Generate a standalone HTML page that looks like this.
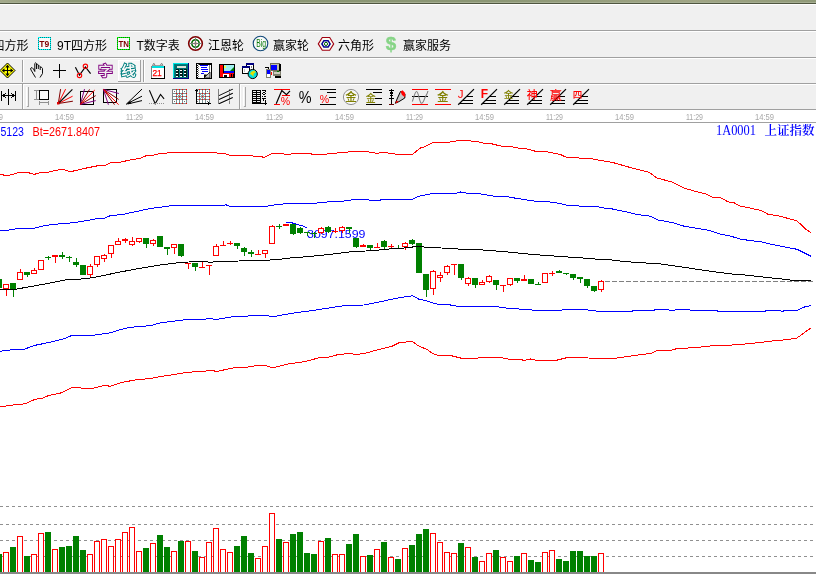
<!DOCTYPE html>
<html><head><meta charset="utf-8"><title>chart</title>
<style>html,body{margin:0;padding:0;background:#fff;overflow:hidden}body{width:816px;height:577px;position:relative}</style></head>
<body>
<svg width="816" height="577" viewBox="0 0 816 577" style="position:absolute;left:0;top:0;display:block">
<g shape-rendering="crispEdges">
<rect x="0" y="0" width="816" height="577" fill="#ffffff" />
<defs><linearGradient id="tg" x1="0" x2="1" y1="0" y2="0"><stop offset="0" stop-color="#a3a98b"/><stop offset="0.08" stop-color="#8a9573"/><stop offset="0.6" stop-color="#8b9674"/><stop offset="0.85" stop-color="#a0a585"/><stop offset="1" stop-color="#8f9977"/></linearGradient></defs>
<rect x="0" y="0" width="816" height="2" fill="url(#tg)" />
<rect x="0" y="2" width="816" height="1" fill="#a6ae92" />
<rect x="0" y="3" width="816" height="1" fill="#4f5640" />
<rect x="0" y="4" width="816" height="1" fill="#ffffff" />
<rect x="0" y="5" width="816" height="104" fill="#f0f0f0" />
<rect x="0" y="30" width="816" height="1" fill="#a0a0a0" />
<rect x="0" y="31" width="816" height="1" fill="#ffffff" />
<rect x="0" y="57" width="816" height="1" fill="#a0a0a0" />
<rect x="0" y="58" width="816" height="1" fill="#ffffff" />
<rect x="0" y="83" width="816" height="1" fill="#a0a0a0" />
<rect x="0" y="84" width="816" height="1" fill="#ffffff" />
<rect x="0" y="109" width="816" height="1" fill="#a0a0a0" />
<rect x="0" y="110" width="816" height="12" fill="#ffffff" />
<rect x="0" y="122" width="816" height="1" fill="#a0a0a0" />
<rect x="22" y="60" width="1" height="22" fill="#a0a0a0" />
<rect x="23" y="60" width="1" height="22" fill="#ffffff" />
<rect x="143" y="60" width="1" height="22" fill="#a0a0a0" />
<rect x="144" y="60" width="1" height="22" fill="#ffffff" />
<rect x="22" y="84" width="1" height="25" fill="#a0a0a0" />
<rect x="23" y="84" width="1" height="25" fill="#ffffff" />
<rect x="239" y="84" width="1" height="25" fill="#a0a0a0" />
<rect x="240" y="84" width="1" height="25" fill="#ffffff" />
<rect x="26" y="87" width="1" height="19" fill="#ffffff" />
<rect x="28" y="87" width="1" height="20" fill="#a8a8a8" />
<rect x="27" y="106" width="1" height="1" fill="#a8a8a8" />
<rect x="243" y="87" width="1" height="19" fill="#ffffff" />
<rect x="245" y="87" width="1" height="20" fill="#a8a8a8" />
<rect x="244" y="106" width="1" height="1" fill="#a8a8a8" />
<rect x="118" y="60" width="23" height="22" fill="#f8f8f8" />
<rect x="118" y="60" width="23" height="1" fill="#ffffff" />
<rect x="118" y="60" width="1" height="22" fill="#ffffff" />
<rect x="118" y="81" width="23" height="1" fill="#a0a0a0" />
<rect x="140" y="60" width="1" height="22" fill="#a0a0a0" />
</g>
<text x="-7.5" y="50" font-size="12" fill="#000" font-family="Liberation Sans, Noto Sans CJK SC, sans-serif" >四方形</text>
<text x="57" y="50" font-size="12" fill="#000" font-family="Liberation Sans, Noto Sans CJK SC, sans-serif" >9T四方形</text>
<text x="136.5" y="50" font-size="12" fill="#000" font-family="Liberation Sans, Noto Sans CJK SC, sans-serif" >T数字表</text>
<text x="208" y="50" font-size="12" fill="#000" font-family="Liberation Sans, Noto Sans CJK SC, sans-serif" >江恩轮</text>
<text x="273" y="50" font-size="12" fill="#000" font-family="Liberation Sans, Noto Sans CJK SC, sans-serif" >赢家轮</text>
<text x="338" y="50" font-size="12" fill="#000" font-family="Liberation Sans, Noto Sans CJK SC, sans-serif" >六角形</text>
<text x="403" y="50" font-size="12" fill="#000" font-family="Liberation Sans, Noto Sans CJK SC, sans-serif" >赢家服务</text>
<g shape-rendering="crispEdges">
<rect x="38" y="37" width="13" height="13" fill="#fafafa" />
<rect x="38.5" y="37.5" width="12" height="12" fill="none" stroke="#00ffff" stroke-width="1"/>
<rect x="38.5" y="37.5" width="12" height="12" fill="none" stroke="#008080" stroke-width="1" stroke-dasharray="1 1" stroke-dashoffset="1"/>
<rect x="117" y="37" width="13" height="13" fill="#fafafa" />
<rect x="117.5" y="37.5" width="12" height="12" fill="none" stroke="#00ff00" stroke-width="1"/>
<rect x="117.5" y="37.5" width="12" height="12" fill="none" stroke="#008000" stroke-width="1" stroke-dasharray="1 1" stroke-dashoffset="1"/>
</g>
<text x="39.3" y="47" font-size="8.5" font-weight="bold" fill="#800000" font-family="Liberation Sans, sans-serif" textLength="10" lengthAdjust="spacingAndGlyphs">T9</text>
<text x="118.5" y="47" font-size="8.5" font-weight="bold" fill="#800000" font-family="Liberation Sans, sans-serif" textLength="10.5" lengthAdjust="spacingAndGlyphs">TN</text>
<circle cx="195.5" cy="43.5" r="6.8" fill="#ffffff" stroke="#800000" stroke-width="1.6"/>
<circle cx="195.5" cy="43.5" r="3.7" fill="#ffffff" stroke="#006a00" stroke-width="1.6"/>
<circle cx="195.5" cy="43.5" r="1.3" fill="#e06020"/>
<g shape-rendering="crispEdges"><rect x="189" y="43" width="13" height="1" fill="#808080"/><rect x="195" y="37" width="1" height="13" fill="#808080"/></g>
<circle cx="260.5" cy="43.5" r="7.3" fill="#fafafa" stroke="#104878" stroke-width="1.1"/>
<text x="256.3" y="47" font-size="11" fill="#0a7a0a" font-family="Liberation Sans, sans-serif" textLength="9.8" lengthAdjust="spacingAndGlyphs">Big</text>
<polygon points="318.3,43.9 322.3,37.5 329.7,37.5 333.7,43.9 329.7,50.3 322.3,50.3" fill="#fcfcf4" stroke="#a00010" stroke-width="1.1"/>
<polygon points="321.9,43.9 323.9,40.7 328.1,40.7 330.1,43.9 328.1,47.1 323.9,47.1" fill="#ffffff" stroke="#000090" stroke-width="1.5"/>
<circle cx="326" cy="43.9" r="1.6" fill="#ffffff" stroke="#006400" stroke-width="1"/>
<text x="385.8" y="49.6" font-size="19" font-weight="bold" fill="#86d486" stroke="#86d486" stroke-width="0.4" font-family="Liberation Sans, sans-serif" textLength="10.5" lengthAdjust="spacingAndGlyphs">$</text>
<polygon points="0,70.5 7.5,63 15,70.5 7.5,78" fill="#ffff00" stroke="#000" stroke-width="1"/>
<g shape-rendering="crispEdges">
<rect x="3" y="70" width="10" height="1" fill="#000" />
<rect x="7" y="66" width="1" height="10" fill="#000" />
</g>
<path d="M7.5,64.8 L5.3,67.5 L9.7,67.5 Z M7.5,76.2 L5.3,73.5 L9.7,73.5 Z M1.8,70.5 L4.5,68.3 L4.5,72.7 Z M13.2,70.5 L10.5,68.3 L10.5,72.7 Z" fill="#000"/>
<path d="M35.5,77.5 L31,70 L30.5,68.5 L32,67.5 L33.5,69 L34.8,71.5 L34.8,63.5 L35.6,62.8 L36.5,63.5 L36.5,69 M36.5,64.5 L37.5,64.2 L38.3,65 L38.3,69 M38.3,66 L39.4,65.8 L40.2,66.6 L40.2,70 M40.2,67.3 L41.4,67.2 L42.5,68.5 L42.5,73.5 L40,77.5" fill="none" stroke="#000" stroke-width="0.95" stroke-linejoin="round"/>
<g shape-rendering="crispEdges">
<rect x="53" y="70" width="13" height="1" fill="#000" />
<rect x="59" y="64" width="1" height="14" fill="#000" />
</g>
<polyline points="75.4,67.2 79.5,75.2 85.4,66.9 90.6,73.7" stroke="#000" stroke-width="1.2" fill="none"/>
<circle cx="79.5" cy="75.4" r="2.2" fill="none" stroke="#ff0000" stroke-width="1.1"/>
<circle cx="85.4" cy="66.3" r="2.2" fill="none" stroke="#ff0000" stroke-width="1.1"/>
<text x="98.6" y="74.6" font-size="13" font-weight="300" fill="#800080" stroke="#800080" stroke-width="2.6" stroke-linejoin="miter" font-family="Liberation Sans, Noto Sans CJK SC, sans-serif" textLength="14" lengthAdjust="spacingAndGlyphs">字</text>
<text x="98.6" y="74.6" font-size="13" font-weight="300" fill="#f0f0f0" stroke="#f0f0f0" stroke-width="0.7" font-family="Liberation Sans, Noto Sans CJK SC, sans-serif" textLength="14" lengthAdjust="spacingAndGlyphs">字</text>
<text x="121.4" y="74.6" font-size="13" font-weight="300" fill="#008080" stroke="#008080" stroke-width="2.6" stroke-linejoin="miter" font-family="Liberation Sans, Noto Sans CJK SC, sans-serif" textLength="14" lengthAdjust="spacingAndGlyphs">线</text>
<text x="121.4" y="74.6" font-size="13" font-weight="300" fill="#f8f8f8" stroke="#f8f8f8" stroke-width="0.7" font-family="Liberation Sans, Noto Sans CJK SC, sans-serif" textLength="14" lengthAdjust="spacingAndGlyphs">线</text>
<g shape-rendering="crispEdges">
<rect x="151" y="66" width="14" height="13" fill="#000" />
<rect x="151" y="66" width="13" height="12" fill="#808080" />
<rect x="152" y="66" width="12" height="12" fill="#ffffff" />
<rect x="152" y="66" width="12" height="2" fill="#00e0e0" />
<rect x="152" y="65" width="11" height="1" fill="#a0a0a0" />
</g>
<polyline points="152.5,65.5 153.8,63.2 155.2,65.5" stroke="#808080" stroke-width="1" fill="none"/>
<polyline points="160.2,65.5 161.6,63.2 163,65.5" stroke="#808080" stroke-width="1" fill="none"/>
<text x="152.4" y="76" font-size="9.8" fill="#ff0000" stroke="#ff0000" stroke-width="0.25" font-family="Liberation Sans, sans-serif" textLength="9.4" lengthAdjust="spacingAndGlyphs">21</text>
<g shape-rendering="crispEdges">
<rect x="173" y="63" width="16" height="16" fill="#000080" />
<rect x="173" y="63" width="15" height="15" fill="#00e8e8" />
<rect x="174" y="64" width="14" height="14" fill="#008080" />
<rect x="175" y="65" width="13" height="13" fill="#007070" />
<rect x="177" y="66" width="9" height="2" fill="#e0e0d8" />
<rect x="176" y="69" width="11" height="8" fill="#002020" />
<rect x="176" y="70" width="2" height="1" fill="#ffffff" />
<rect x="180" y="70" width="2" height="1" fill="#ffffff" />
<rect x="184" y="70" width="2" height="1" fill="#ffffff" />
<rect x="176" y="73" width="2" height="1" fill="#ffffff" />
<rect x="180" y="73" width="2" height="1" fill="#ffffff" />
<rect x="184" y="73" width="2" height="1" fill="#ffffff" />
<rect x="176" y="76" width="2" height="1" fill="#ffffff" />
<rect x="180" y="76" width="2" height="1" fill="#ffffff" />
<rect x="184" y="76" width="2" height="1" fill="#ffffff" />
<rect x="179" y="69" width="1" height="9" fill="#008080" />
<rect x="183" y="69" width="1" height="9" fill="#008080" />
</g>
<g shape-rendering="crispEdges">
<rect x="196" y="63" width="16" height="16" fill="#000" />
<rect x="197" y="65" width="14" height="13" fill="#ffffff" />
<rect x="197" y="64" width="2" height="14" fill="#ffffff" />
<rect x="197" y="65" width="1" height="1" fill="#000" />
<rect x="198" y="64" width="1" height="1" fill="#808080" />
<rect x="197" y="67" width="1" height="1" fill="#000" />
<rect x="198" y="66" width="1" height="1" fill="#808080" />
<rect x="197" y="69" width="1" height="1" fill="#000" />
<rect x="198" y="68" width="1" height="1" fill="#808080" />
<rect x="197" y="71" width="1" height="1" fill="#000" />
<rect x="198" y="70" width="1" height="1" fill="#808080" />
<rect x="197" y="73" width="1" height="1" fill="#000" />
<rect x="198" y="72" width="1" height="1" fill="#808080" />
<rect x="197" y="75" width="1" height="1" fill="#000" />
<rect x="198" y="74" width="1" height="1" fill="#808080" />
<rect x="197" y="77" width="1" height="1" fill="#000" />
<rect x="198" y="76" width="1" height="1" fill="#808080" />
<rect x="200" y="65" width="8" height="1" fill="#0000ff" />
<rect x="201" y="67" width="6" height="1" fill="#0000ff" />
<rect x="201" y="69" width="7" height="1" fill="#0000ff" />
<rect x="202" y="71" width="6" height="1" fill="#0000ff" />
<rect x="201" y="73" width="3" height="1" fill="#0000ff" />
<rect x="209" y="65" width="1" height="9" fill="#808080" />
</g>
<polygon points="204,78 210,72 210,78" fill="#c0c0c0" stroke="#000" stroke-width="0.8"/>
<polygon points="204,78 204,74.5 207,74.5" fill="#000"/>
<g shape-rendering="crispEdges">
<rect x="219" y="64" width="16" height="14" fill="#000" />
<rect x="220" y="65" width="3" height="12" fill="#ff0000" />
<rect x="223" y="73" width="11" height="4" fill="#ff0000" />
<rect x="224" y="65" width="10" height="6" fill="#a0f0f0" />
<rect x="224" y="71" width="10" height="2" fill="#0000ff" />
<rect x="223" y="74" width="6" height="3" fill="#ffffff" />
<rect x="224" y="75" width="3" height="2" fill="#000" />
<rect x="231" y="74" width="1" height="4" fill="#000" />
<rect x="233" y="74" width="2" height="4" fill="#000" />
<rect x="225" y="67" width="1" height="1" fill="#ffff00" />
<rect x="224" y="66" width="2" height="2" fill="#ffff40" />
</g>
<polygon points="230,71 234,67 234,71" fill="#008000"/>
<g shape-rendering="crispEdges">
<rect x="246" y="63" width="8" height="8" fill="#000" />
<rect x="247" y="65" width="6" height="5" fill="#ffffff" />
<rect x="246" y="63" width="8" height="2" fill="#000080" />
<rect x="242" y="66" width="8" height="8" fill="#000" />
<rect x="243" y="68" width="6" height="5" fill="#ffffff" />
<rect x="242" y="66" width="8" height="2" fill="#000080" />
<rect x="251" y="66" width="1" height="2" fill="#808080" />
<rect x="244" y="69" width="1" height="3" fill="#c0c0c0" />
</g>
<circle cx="252.7" cy="74" r="4.6" fill="#00e0e0" stroke="#000" stroke-width="1"/>
<path d="M251,72 L254,70.5 L256,72 L253.5,74 L253.5,77 L252,75 L250,74 Z" fill="#e0e000"/>
<g shape-rendering="crispEdges">
<rect x="270" y="63" width="10" height="8" fill="#707058" />
<rect x="271" y="64" width="8" height="6" fill="#c0c0a8" />
<rect x="271" y="65" width="6" height="5" fill="#0000ff" />
<rect x="279" y="64" width="2" height="8" fill="#000" />
<rect x="273" y="71" width="8" height="5" fill="#808070" />
<rect x="274" y="72" width="6" height="2" fill="#d0d0c0" />
<rect x="275" y="76" width="6" height="2" fill="#000" />
<rect x="277" y="71" width="2" height="1" fill="#008000" />
<rect x="266" y="69" width="5" height="9" fill="#808070" />
<rect x="267" y="70" width="3" height="4" fill="#0000ff" />
<rect x="267" y="74" width="3" height="3" fill="#ffffff" />
<rect x="265" y="67" width="4" height="1" fill="#000" />
<rect x="268" y="68" width="1" height="1" fill="#000" />
<rect x="271" y="72" width="1" height="3" fill="#ff0000" />
</g>
<g shape-rendering="crispEdges">
<rect x="1" y="91" width="1" height="10" fill="#000" />
<rect x="8" y="89" width="1" height="16" fill="#000" />
<rect x="15" y="91" width="1" height="10" fill="#000" />
<rect x="1" y="95" width="15" height="1" fill="#000" />
<rect x="3" y="94" width="2" height="3" fill="#000" />
<rect x="5" y="93" width="1" height="1" fill="#000" />
<rect x="5" y="97" width="1" height="1" fill="#000" />
<rect x="12" y="94" width="2" height="3" fill="#000" />
<rect x="11" y="93" width="1" height="1" fill="#000" />
<rect x="11" y="97" width="1" height="1" fill="#000" />
<rect x="39" y="90" width="10" height="10" fill="#000" />
<rect x="40" y="91" width="8" height="8" fill="#f8f8f8" />
<rect x="34" y="90" width="5" height="1" fill="#909090" />
<rect x="34" y="99" width="5" height="1" fill="#909090" />
<rect x="36" y="90" width="1" height="10" fill="#909090" />
<rect x="39" y="101" width="1" height="4" fill="#909090" />
<rect x="48" y="101" width="1" height="4" fill="#909090" />
<rect x="39" y="102" width="10" height="1" fill="#909090" />
</g>
<line x1="58.3" y1="103.5" x2="60.6" y2="89.1" stroke="#800000" stroke-width="1" />
<line x1="58.3" y1="103.5" x2="65.6" y2="89.1" stroke="#ff0000" stroke-width="1" />
<line x1="58.3" y1="103.5" x2="72.6" y2="96.2" stroke="#ff0000" stroke-width="1" />
<line x1="58.3" y1="103.5" x2="72.9" y2="101.2" stroke="#800000" stroke-width="1" />
<line x1="58.3" y1="103.5" x2="72.4" y2="89.4" stroke="#000" stroke-width="1.1" />
<rect x="57" y="102" width="2.5" height="2.5" fill="#e00000"/>
<rect x="80.5" y="91.5" width="13" height="13" fill="#f8f8f8" stroke="#000" stroke-width="1.2" shape-rendering="crispEdges"/>
<line x1="80.4" y1="104.4" x2="84.5" y2="89.1" stroke="#800080" stroke-width="1" />
<line x1="80.4" y1="104.4" x2="89.5" y2="89.4" stroke="#800000" stroke-width="1" />
<line x1="80.4" y1="104.4" x2="95.7" y2="95.6" stroke="#800000" stroke-width="1" />
<line x1="80.4" y1="104.4" x2="95.7" y2="100.6" stroke="#800080" stroke-width="1" />
<line x1="80.4" y1="104.4" x2="94.8" y2="90" stroke="#ff0000" stroke-width="1" />
<rect x="103.5" y="89.5" width="13" height="13" fill="#f8f8f8" stroke="#000" stroke-width="1.2" shape-rendering="crispEdges"/>
<line x1="103.4" y1="89.4" x2="118.9" y2="93.5" stroke="#800080" stroke-width="1" />
<line x1="103.4" y1="89.4" x2="118.6" y2="99.4" stroke="#800000" stroke-width="1" />
<line x1="103.4" y1="89.4" x2="114.5" y2="104.7" stroke="#800000" stroke-width="1" />
<line x1="103.4" y1="89.4" x2="108.4" y2="104.7" stroke="#800080" stroke-width="1" />
<line x1="103.4" y1="89.4" x2="118.6" y2="104.7" stroke="#ff0000" stroke-width="1" />
<line x1="126.1" y1="104.4" x2="142" y2="89.1" stroke="#000" stroke-width="1" />
<line x1="128" y1="103.2" x2="142" y2="96.2" stroke="#000" stroke-width="1" />
<line x1="128" y1="103.9" x2="142" y2="100.6" stroke="#000" stroke-width="1" />
<polygon points="126,104.6 130,101 131.5,103.6" fill="#000"/>
<polyline points="149.4,90.3 155.2,103.8 160.5,94.4 164.1,98.8" stroke="#000" stroke-width="1.05" fill="none"/>
<line x1="149" y1="103.5" x2="165" y2="103.5" stroke="#909090" stroke-width="1" stroke-dasharray="1 1" shape-rendering="crispEdges"/>
<g shape-rendering="crispEdges">
<rect x="172" y="89" width="15" height="15" fill="#789090" />
<rect x="173" y="90" width="3" height="3" fill="#ffffff" />
<rect x="173" y="94" width="3" height="2" fill="#ffffff" />
<rect x="173" y="97" width="3" height="2" fill="#ffffff" />
<rect x="173" y="100" width="3" height="3" fill="#ffffff" />
<rect x="177" y="90" width="2" height="3" fill="#ffffff" />
<rect x="177" y="94" width="2" height="2" fill="#ffffff" />
<rect x="177" y="97" width="2" height="2" fill="#ffffff" />
<rect x="177" y="100" width="2" height="3" fill="#ffffff" />
<rect x="180" y="90" width="2" height="3" fill="#ffffff" />
<rect x="180" y="94" width="2" height="2" fill="#ffffff" />
<rect x="180" y="97" width="2" height="2" fill="#ffffff" />
<rect x="180" y="100" width="2" height="3" fill="#ffffff" />
<rect x="183" y="90" width="3" height="3" fill="#ffffff" />
<rect x="183" y="94" width="3" height="2" fill="#ffffff" />
<rect x="183" y="97" width="3" height="2" fill="#ffffff" />
<rect x="183" y="100" width="3" height="3" fill="#ffffff" />
<rect x="174" y="91" width="1" height="1" fill="#707070" />
<rect x="184" y="91" width="1" height="1" fill="#707070" />
<rect x="174" y="101" width="1" height="1" fill="#707070" />
<rect x="184" y="101" width="1" height="1" fill="#707070" />
<rect x="177" y="94" width="5" height="5" fill="#90a8a8" />
<rect x="178" y="94" width="1" height="1" fill="#ffffff" />
<rect x="180" y="94" width="1" height="1" fill="#ffffff" />
<rect x="177" y="95" width="1" height="1" fill="#ffffff" />
<rect x="181" y="95" width="1" height="1" fill="#ffffff" />
<rect x="177" y="97" width="1" height="1" fill="#ffffff" />
<rect x="181" y="97" width="1" height="1" fill="#ffffff" />
<rect x="178" y="98" width="1" height="1" fill="#ffffff" />
<rect x="180" y="98" width="1" height="1" fill="#ffffff" />
<rect x="172" y="89" width="1" height="15" fill="#808080" />
<rect x="172" y="89" width="15" height="1" fill="#808080" />
<rect x="176" y="89" width="1" height="1" fill="#ff0000" />
<rect x="176" y="93" width="1" height="1" fill="#ff0000" />
<rect x="176" y="96" width="1" height="1" fill="#ff0000" />
<rect x="176" y="99" width="1" height="1" fill="#ff0000" />
<rect x="176" y="103" width="1" height="1" fill="#ff0000" />
<rect x="179" y="89" width="1" height="1" fill="#ff0000" />
<rect x="179" y="93" width="1" height="1" fill="#ff0000" />
<rect x="179" y="96" width="1" height="1" fill="#ff0000" />
<rect x="179" y="99" width="1" height="1" fill="#ff0000" />
<rect x="179" y="103" width="1" height="1" fill="#ff0000" />
<rect x="182" y="89" width="1" height="1" fill="#ff0000" />
<rect x="182" y="93" width="1" height="1" fill="#ff0000" />
<rect x="182" y="96" width="1" height="1" fill="#ff0000" />
<rect x="182" y="99" width="1" height="1" fill="#ff0000" />
<rect x="182" y="103" width="1" height="1" fill="#ff0000" />
<rect x="186" y="89" width="1" height="1" fill="#ff0000" />
<rect x="186" y="93" width="1" height="1" fill="#ff0000" />
<rect x="186" y="96" width="1" height="1" fill="#ff0000" />
<rect x="186" y="99" width="1" height="1" fill="#ff0000" />
<rect x="186" y="103" width="1" height="1" fill="#ff0000" />
<rect x="195" y="89" width="15" height="15" fill="#789090" />
<rect x="196" y="90" width="3" height="3" fill="#ffffff" />
<rect x="196" y="94" width="3" height="2" fill="#ffffff" />
<rect x="196" y="97" width="3" height="2" fill="#ffffff" />
<rect x="196" y="100" width="3" height="3" fill="#ffffff" />
<rect x="200" y="90" width="2" height="3" fill="#ffffff" />
<rect x="200" y="94" width="2" height="2" fill="#ffffff" />
<rect x="200" y="97" width="2" height="2" fill="#ffffff" />
<rect x="200" y="100" width="2" height="3" fill="#ffffff" />
<rect x="203" y="90" width="2" height="3" fill="#ffffff" />
<rect x="203" y="94" width="2" height="2" fill="#ffffff" />
<rect x="203" y="97" width="2" height="2" fill="#ffffff" />
<rect x="203" y="100" width="2" height="3" fill="#ffffff" />
<rect x="206" y="90" width="3" height="3" fill="#ffffff" />
<rect x="206" y="94" width="3" height="2" fill="#ffffff" />
<rect x="206" y="97" width="3" height="2" fill="#ffffff" />
<rect x="206" y="100" width="3" height="3" fill="#ffffff" />
<rect x="197" y="91" width="1" height="1" fill="#707070" />
<rect x="207" y="91" width="1" height="1" fill="#707070" />
<rect x="197" y="101" width="1" height="1" fill="#707070" />
<rect x="207" y="101" width="1" height="1" fill="#707070" />
<rect x="200" y="94" width="5" height="5" fill="#90a8a8" />
<rect x="201" y="94" width="1" height="1" fill="#ffffff" />
<rect x="203" y="94" width="1" height="1" fill="#ffffff" />
<rect x="200" y="95" width="1" height="1" fill="#ffffff" />
<rect x="204" y="95" width="1" height="1" fill="#ffffff" />
<rect x="200" y="97" width="1" height="1" fill="#ffffff" />
<rect x="204" y="97" width="1" height="1" fill="#ffffff" />
<rect x="201" y="98" width="1" height="1" fill="#ffffff" />
<rect x="203" y="98" width="1" height="1" fill="#ffffff" />
<rect x="195" y="89" width="1" height="15" fill="#808080" />
<rect x="195" y="89" width="15" height="1" fill="#808080" />
<rect x="199" y="89" width="1" height="1" fill="#ff0000" />
<rect x="199" y="93" width="1" height="1" fill="#ff0000" />
<rect x="199" y="96" width="1" height="1" fill="#ff0000" />
<rect x="199" y="99" width="1" height="1" fill="#ff0000" />
<rect x="199" y="103" width="1" height="1" fill="#ff0000" />
<rect x="202" y="89" width="1" height="1" fill="#ff0000" />
<rect x="202" y="93" width="1" height="1" fill="#ff0000" />
<rect x="202" y="96" width="1" height="1" fill="#ff0000" />
<rect x="202" y="99" width="1" height="1" fill="#ff0000" />
<rect x="202" y="103" width="1" height="1" fill="#ff0000" />
<rect x="205" y="89" width="1" height="1" fill="#ff0000" />
<rect x="205" y="93" width="1" height="1" fill="#ff0000" />
<rect x="205" y="96" width="1" height="1" fill="#ff0000" />
<rect x="205" y="99" width="1" height="1" fill="#ff0000" />
<rect x="205" y="103" width="1" height="1" fill="#ff0000" />
<rect x="209" y="89" width="1" height="1" fill="#ff0000" />
<rect x="209" y="93" width="1" height="1" fill="#ff0000" />
<rect x="209" y="96" width="1" height="1" fill="#ff0000" />
<rect x="209" y="99" width="1" height="1" fill="#ff0000" />
<rect x="209" y="103" width="1" height="1" fill="#ff0000" />
<rect x="195" y="89" width="1" height="15" fill="#f0f0f0" />
<rect x="196" y="89" width="1" height="15" fill="#000" />
<rect x="196" y="103" width="14" height="1" fill="#000" />
<rect x="195" y="90" width="3" height="1" fill="#000" />
<rect x="208" y="102" width="1" height="3" fill="#000" />
<rect x="209" y="103" width="1" height="1" fill="#000" />
<rect x="210" y="103" width="1" height="1" fill="#000" />
</g>
<g shape-rendering="crispEdges">
<rect x="218" y="89" width="1" height="15" fill="#808080" />
<rect x="229" y="89" width="1" height="15" fill="#808080" />
</g>
<line x1="219" y1="96.6" x2="232.8" y2="90.1" stroke="#ffffff" stroke-width="1" />
<line x1="219" y1="95.6" x2="232.8" y2="89.1" stroke="#000" stroke-width="1.05" />
<line x1="219" y1="100.4" x2="232.8" y2="94.2" stroke="#ffffff" stroke-width="1" />
<line x1="219" y1="99.4" x2="232.8" y2="93.2" stroke="#000" stroke-width="1.05" />
<line x1="219" y1="104.8" x2="232.8" y2="98.4" stroke="#ffffff" stroke-width="1" />
<line x1="219" y1="103.8" x2="232.8" y2="97.4" stroke="#000" stroke-width="1.05" />
<g shape-rendering="crispEdges">
<rect x="252" y="90" width="1" height="14" fill="#000" />
<rect x="256" y="90" width="1" height="14" fill="#000" />
<rect x="260" y="90" width="1" height="14" fill="#000" />
<rect x="252" y="90" width="9" height="1" fill="#000" />
<rect x="252" y="92" width="9" height="1" fill="#000" />
<rect x="252" y="94" width="9" height="1" fill="#000" />
<rect x="252" y="96" width="9" height="1" fill="#000" />
<rect x="252" y="98" width="9" height="1" fill="#000" />
<rect x="252" y="100" width="9" height="1" fill="#000" />
<rect x="252" y="102" width="9" height="1" fill="#000" />
<rect x="252" y="103" width="15" height="1" fill="#000" />
<rect x="265" y="101" width="1" height="4" fill="#000" />
<rect x="262" y="90" width="1" height="1" fill="#000" />
<rect x="263" y="90" width="1" height="1" fill="#000" />
<rect x="264" y="90" width="1" height="1" fill="#000" />
<rect x="265" y="90" width="1" height="1" fill="#000" />
<rect x="265" y="91" width="1" height="1" fill="#000" />
<rect x="263" y="92" width="1" height="1" fill="#000" />
<rect x="264" y="92" width="1" height="1" fill="#000" />
<rect x="262" y="93" width="1" height="1" fill="#000" />
<rect x="265" y="93" width="1" height="1" fill="#000" />
<rect x="263" y="94" width="1" height="1" fill="#000" />
<rect x="264" y="94" width="1" height="1" fill="#000" />
<rect x="262" y="96" width="1" height="1" fill="#000" />
<rect x="264" y="96" width="1" height="1" fill="#000" />
<rect x="265" y="96" width="1" height="1" fill="#000" />
<rect x="262" y="98" width="1" height="1" fill="#000" />
<rect x="263" y="98" width="1" height="1" fill="#000" />
<rect x="264" y="98" width="1" height="1" fill="#000" />
<rect x="265" y="98" width="1" height="1" fill="#000" />
<rect x="263" y="99" width="1" height="1" fill="#000" />
<rect x="263" y="100" width="1" height="1" fill="#000" />
<rect x="265" y="100" width="1" height="1" fill="#000" />
<rect x="274" y="89" width="16" height="1" fill="#ff0000" />
<rect x="282" y="95" width="8" height="1" fill="#ff0000" />
<rect x="274" y="104" width="6" height="1" fill="#ff0000" />
</g>
<polyline points="276.2,103.8 281.8,90.6 286.5,94.7 290,90.9" stroke="#000" stroke-width="1.2" fill="none"/>
<text x="280.8" y="104.8" font-size="10.5" fill="#ff0000" font-family="Liberation Sans, sans-serif" textLength="9.4" lengthAdjust="spacingAndGlyphs">%</text>
<text x="298.7" y="102.6" font-size="16.5" fill="#000" font-family="Liberation Sans, sans-serif" textLength="12.8" lengthAdjust="spacingAndGlyphs">%</text>
<g shape-rendering="crispEdges">
<rect x="320" y="89" width="16" height="1" fill="#000" />
<rect x="327" y="92" width="9" height="1" fill="#000" />
<rect x="329" y="97" width="7" height="1" fill="#000" />
<rect x="320" y="104" width="16" height="1" fill="#000" />
<rect x="366" y="89" width="16" height="1" fill="#000" />
<rect x="373" y="92" width="9" height="1" fill="#000" />
<rect x="375" y="98" width="7" height="1" fill="#000" />
<rect x="366" y="104" width="16" height="1" fill="#000" />
</g>
<text x="319.8" y="103" font-size="10.5" fill="#ff0000" font-family="Liberation Sans, sans-serif" textLength="9.4" lengthAdjust="spacingAndGlyphs">%</text>
<circle cx="351" cy="97" r="7.6" fill="#f8f8f8" stroke="#909090" stroke-width="1"/>
<text x="345.2" y="101.3" font-size="11.5" fill="#808000" font-family="Liberation Sans, Noto Sans CJK SC, sans-serif" font-weight="500">金</text>
<text x="365.8" y="102.4" font-size="10" fill="#808000" font-family="Liberation Sans, Noto Sans CJK SC, sans-serif" font-weight="500">金</text>
<g shape-rendering="crispEdges">
<rect x="391" y="89" width="1" height="16" fill="#000" />
<rect x="389" y="90" width="5" height="1" fill="#000" />
<rect x="390" y="92" width="3" height="1" fill="#000" />
<rect x="390" y="93" width="3" height="1" fill="#000" />
<rect x="390" y="95" width="3" height="1" fill="#000" />
<rect x="389" y="98" width="5" height="1" fill="#000" />
<rect x="389" y="104" width="5" height="1" fill="#600000" />
</g>
<polygon points="395.3,103.3 397.5,98 400.5,91.5 405,94 404.8,98 399,101.6" fill="#c8c8c8" stroke="#000" stroke-width="1"/>
<polygon points="400.6,91.6 402.5,90.2 405.2,93 405,97.3 402,95" fill="#ff0000"/>
<polygon points="395.3,103.5 396.6,100.5 398.6,101.8" fill="#ff0000"/>
<g shape-rendering="crispEdges">
<rect x="412" y="89" width="16" height="1" fill="#ff0000" />
<rect x="412" y="104" width="16" height="1" fill="#ff0000" />
<rect x="412" y="96" width="16" height="1" fill="#000" />
<rect x="435" y="89" width="16" height="1" fill="#ff0000" />
<rect x="435" y="104" width="16" height="1" fill="#ff0000" />
</g>
<path d="M412.3,101.5 C414,97 415,91.5 416.6,91.5 C418.5,91.5 419.5,103.2 421.4,103.2 C423.5,103.2 424.3,99 425,97.5 C426,95.5 427.5,94 427.9,91" fill="none" stroke="#808080" stroke-width="1.1"/>
<text x="437" y="101.3" font-size="11.5" fill="#808000" font-family="Liberation Sans, Noto Sans CJK SC, sans-serif" font-weight="500">金</text>
<g shape-rendering="crispEdges">
<rect x="467" y="96" width="6" height="1" fill="#000" />
<rect x="463" y="100" width="10" height="1" fill="#000" />
<rect x="460" y="103" width="13" height="1" fill="#000" />
</g>
<line x1="458.2" y1="104.7" x2="474" y2="89.1" stroke="#000" stroke-width="1.2" />
<text x="457.7" y="98" font-size="11.5" font-weight="normal" fill="#ff0000" font-family="Liberation Sans, sans-serif">J</text>
<g shape-rendering="crispEdges">
<rect x="490" y="96" width="6" height="1" fill="#000" />
<rect x="486" y="100" width="10" height="1" fill="#000" />
<rect x="483" y="103" width="13" height="1" fill="#000" />
</g>
<line x1="481.2" y1="104.7" x2="497" y2="89.1" stroke="#000" stroke-width="1.2" />
<text x="480.7" y="98" font-size="12" font-weight="bold" fill="#ff0000" font-family="Liberation Sans, sans-serif">F</text>
<g shape-rendering="crispEdges">
<rect x="513" y="96" width="6" height="1" fill="#000" />
<rect x="509" y="100" width="10" height="1" fill="#000" />
<rect x="506" y="103" width="13" height="1" fill="#000" />
</g>
<line x1="504.2" y1="104.7" x2="520" y2="89.1" stroke="#000" stroke-width="1.2" />
<text x="503.7" y="97.7" font-size="9.5" font-weight="500" fill="#808000" font-family="Liberation Sans, Noto Sans CJK SC, sans-serif">金</text>
<g shape-rendering="crispEdges">
<rect x="536" y="96" width="6" height="1" fill="#000" />
<rect x="532" y="100" width="10" height="1" fill="#000" />
<rect x="529" y="103" width="13" height="1" fill="#000" />
</g>
<line x1="527.2" y1="104.7" x2="543" y2="89.1" stroke="#000" stroke-width="1.2" />
<text x="526.7" y="98.6" font-size="11" font-weight="500" fill="#ff0000" font-family="Liberation Sans, Noto Sans CJK SC, sans-serif">神</text>
<g shape-rendering="crispEdges">
<rect x="559" y="96" width="6" height="1" fill="#000" />
<rect x="555" y="100" width="10" height="1" fill="#000" />
<rect x="552" y="103" width="13" height="1" fill="#000" />
</g>
<line x1="550.2" y1="104.7" x2="566" y2="89.1" stroke="#000" stroke-width="1.2" />
<text x="549.7" y="100" font-size="12" font-weight="500" fill="#ff0000" font-family="Liberation Sans, Noto Sans CJK SC, sans-serif">赢</text>
<g shape-rendering="crispEdges">
<rect x="582" y="96" width="6" height="1" fill="#000" />
<rect x="578" y="100" width="10" height="1" fill="#000" />
<rect x="575" y="103" width="13" height="1" fill="#000" />
</g>
<line x1="573.2" y1="104.7" x2="589" y2="89.1" stroke="#000" stroke-width="1.2" />
<text x="572.7" y="97.8" font-size="9.5" font-weight="500" fill="#ff0000" font-family="Liberation Sans, Noto Sans CJK SC, sans-serif">四</text>
<text x="-14" y="120" font-size="9.5" fill="#a8a8a8" font-family="Liberation Sans, sans-serif" textLength="17" lengthAdjust="spacingAndGlyphs">11:29</text>
<text x="55" y="120" font-size="9.5" fill="#a8a8a8" font-family="Liberation Sans, sans-serif" textLength="19" lengthAdjust="spacingAndGlyphs">14:59</text>
<text x="126" y="120" font-size="9.5" fill="#a8a8a8" font-family="Liberation Sans, sans-serif" textLength="17" lengthAdjust="spacingAndGlyphs">11:29</text>
<text x="195" y="120" font-size="9.5" fill="#a8a8a8" font-family="Liberation Sans, sans-serif" textLength="19" lengthAdjust="spacingAndGlyphs">14:59</text>
<text x="266" y="120" font-size="9.5" fill="#a8a8a8" font-family="Liberation Sans, sans-serif" textLength="17" lengthAdjust="spacingAndGlyphs">11:29</text>
<text x="335" y="120" font-size="9.5" fill="#a8a8a8" font-family="Liberation Sans, sans-serif" textLength="19" lengthAdjust="spacingAndGlyphs">14:59</text>
<text x="406" y="120" font-size="9.5" fill="#a8a8a8" font-family="Liberation Sans, sans-serif" textLength="17" lengthAdjust="spacingAndGlyphs">11:29</text>
<text x="475" y="120" font-size="9.5" fill="#a8a8a8" font-family="Liberation Sans, sans-serif" textLength="19" lengthAdjust="spacingAndGlyphs">14:59</text>
<text x="546" y="120" font-size="9.5" fill="#a8a8a8" font-family="Liberation Sans, sans-serif" textLength="17" lengthAdjust="spacingAndGlyphs">11:29</text>
<text x="615" y="120" font-size="9.5" fill="#a8a8a8" font-family="Liberation Sans, sans-serif" textLength="19" lengthAdjust="spacingAndGlyphs">14:59</text>
<text x="686" y="120" font-size="9.5" fill="#a8a8a8" font-family="Liberation Sans, sans-serif" textLength="17" lengthAdjust="spacingAndGlyphs">11:29</text>
<text x="755" y="120" font-size="9.5" fill="#a8a8a8" font-family="Liberation Sans, sans-serif" textLength="19" lengthAdjust="spacingAndGlyphs">14:59</text>
<text x="0.5" y="136" font-size="12" fill="#0000ff" font-family="Liberation Sans, sans-serif" textLength="23.5" lengthAdjust="spacingAndGlyphs">5123</text>
<text x="32.5" y="136" font-size="12" fill="#ff0000" font-family="Liberation Sans, sans-serif" textLength="67.5" lengthAdjust="spacingAndGlyphs">Bt=2671.8407</text>
<text x="716" y="135" font-size="14" font-weight="500" fill="#0000ff" font-family="Liberation Serif, Noto Serif CJK SC, serif" textLength="40" lengthAdjust="spacingAndGlyphs">1A0001</text>
<text x="764.5" y="134.5" font-size="12.5" font-weight="600" fill="#0000ff" font-family="Liberation Serif, Noto Serif CJK SC, serif" textLength="50" lengthAdjust="spacingAndGlyphs">上证指数</text>
<g shape-rendering="crispEdges" fill="none" stroke-width="1">
<polyline points="0.0,174.3 6.0,175.5 10.0,175.0 20.0,172.3 27.5,172.5 34.5,174.3 41.0,172.5 49.0,172.0 60.0,169.5 64.0,169.8 70.0,171.5 75.0,170.8 85.0,168.3 97.5,165.8 105.0,165.3 111.0,162.5 121.0,162.0 130.0,160.0 140.0,158.3 146.0,155.8 154.0,155.0 160.0,153.5 170.0,152.8 175.0,152.3 204.0,152.5 224.0,153.3 229.0,155.0 246.5,155.5 260.0,156.5 264.0,157.3 271.5,153.8 279.0,153.3 288.0,154.5 294.0,153.5 309.0,153.5 314.0,154.5 324.0,154.3 339.0,152.8 354.0,151.5 366.5,151.5 376.5,153.3 384.0,152.3 396.5,154.3 408.0,154.5 412.5,154.3 420.5,148.0 425.5,146.5 433.0,142.3 450.5,142.0 460.5,140.3 475.5,141.3 483.0,143.0 490.5,143.5 500.5,146.0 510.5,146.5 518.0,148.0 525.5,148.5 535.5,151.3 545.5,151.5 560.5,154.5 565.5,157.0 575.5,157.3 580.5,158.3 590.5,158.5 600.5,160.5 612.0,162.3 632.0,168.0 649.5,172.5 657.0,178.0 672.0,182.0 686.0,188.8 707.0,194.3 713.0,197.5 721.0,198.0 728.0,201.8 734.5,203.0 741.0,206.5 748.0,207.5 762.0,210.8 768.0,214.3 777.0,215.5 797.0,220.8 806.0,229.5 811.0,232.5" stroke="#ff0000"/>
<polyline points="0.0,230.5 9.0,230.0 17.5,228.5 35.0,228.0 45.0,225.5 60.0,223.8 72.5,222.8 87.5,220.5 97.5,218.5 105.0,218.0 111.0,215.3 121.0,214.8 135.0,211.8 150.0,208.5 162.5,207.0 172.5,205.5 204.0,205.3 226.5,205.0 229.0,206.0 268.0,206.0 276.5,204.5 291.5,203.3 314.0,203.3 331.5,201.5 344.0,201.0 354.0,199.5 366.5,199.3 370.0,200.3 379.0,200.3 384.0,199.3 408.0,199.3 413.0,199.0 418.0,196.5 433.0,193.3 455.5,193.3 460.5,192.0 465.5,193.0 478.0,193.5 493.0,196.0 505.5,196.5 520.5,199.0 535.5,201.3 548.0,201.8 560.5,203.5 565.5,205.0 575.5,205.3 580.5,206.3 595.5,206.3 605.5,208.3 612.0,208.9 627.0,212.0 637.0,214.5 651.0,216.3 658.0,220.0 672.0,222.5 684.5,226.3 709.5,230.5 721.0,234.3 729.5,235.8 741.0,239.3 762.0,242.0 772.0,244.5 797.0,249.3 811.0,256.3" stroke="#0000ff"/>
<polyline points="0.0,351.3 10.0,350.0 25.0,349.0 34.0,345.5 45.0,343.3 62.5,339.3 71.0,335.8 92.5,335.3 110.0,332.8 125.0,328.3 137.5,326.5 150.0,325.8 160.0,323.0 175.0,321.0 187.5,319.5 204.0,319.4 209.0,318.3 216.5,319.5 234.0,316.5 254.0,315.8 265.0,315.3 273.0,316.8 291.5,313.3 314.0,310.3 336.5,306.8 346.5,305.3 364.0,305.0 379.0,302.0 394.0,298.8 404.0,297.0 408.0,296.9 412.0,295.8 414.0,296.3 419.0,299.3 425.5,300.5 433.0,303.0 438.0,304.3 450.5,305.0 458.0,306.5 498.0,306.8 508.0,308.3 523.0,309.3 535.5,310.3 560.5,310.3 565.5,309.3 573.0,310.0 578.0,309.0 588.0,310.0 598.0,311.3 612.0,311.4 632.0,311.3 634.5,310.0 654.5,310.0 657.0,309.0 667.0,309.0 669.5,310.3 674.5,310.3 677.0,309.3 687.0,309.3 691.0,310.3 716.0,310.3 718.0,311.3 764.5,311.3 768.0,310.3 779.5,310.3 782.0,311.3 787.0,310.3 798.0,310.0 804.5,307.0 811.0,305.5" stroke="#0000ff"/>
<polyline points="0.0,407.0 10.0,405.3 25.0,403.8 35.0,399.3 42.5,398.3 49.0,395.3 60.0,393.3 71.0,388.0 77.5,387.3 82.5,388.3 92.5,388.3 105.0,385.3 110.0,386.3 122.5,382.3 135.0,380.0 150.0,378.5 162.5,376.3 175.0,374.3 187.5,372.3 204.0,371.3 211.5,370.3 216.5,371.5 234.0,367.8 246.5,367.3 256.5,365.5 265.0,365.5 273.0,367.8 289.0,363.8 304.0,361.8 319.0,357.8 329.0,357.0 336.5,355.0 349.0,353.3 356.5,354.5 364.0,353.5 379.0,349.5 391.5,346.5 399.0,342.8 408.0,341.8 412.0,341.3 418.0,345.5 428.0,350.0 433.0,353.8 438.0,355.3 450.5,355.5 460.5,358.0 478.0,358.0 483.0,357.0 498.0,357.0 508.0,359.0 520.5,359.3 524.0,360.5 530.5,359.0 537.0,360.5 555.5,360.5 565.5,358.0 573.0,357.0 583.0,357.0 588.0,358.0 612.0,358.3 617.0,358.0 632.0,355.8 651.0,353.3 657.0,350.5 672.0,350.0 678.0,348.3 694.5,347.8 712.0,345.8 737.0,344.8 762.0,342.3 777.0,340.3 787.0,339.8 797.0,338.0 804.5,332.5 811.0,328.0" stroke="#ff0000"/>
</g>
<g shape-rendering="crispEdges" fill="none" stroke-width="1">
<polyline points="286.0,222.5 291.0,222.5 297.0,224.5 303.0,226.0 306.5,228.0" stroke="#0000ff"/>
</g>
<text x="307" y="238" font-size="11.5" fill="#0000ff" font-family="Liberation Sans, sans-serif" textLength="58.5" lengthAdjust="spacingAndGlyphs">3097.1599</text>
<g shape-rendering="crispEdges">
<line x1="0" y1="506.5" x2="813" y2="506.5" stroke="#909090" stroke-width="1" stroke-dasharray="3 3" stroke-dashoffset="0"/>
<line x1="0" y1="524.5" x2="813" y2="524.5" stroke="#909090" stroke-width="1" stroke-dasharray="3 3" stroke-dashoffset="0"/>
<line x1="0" y1="540.5" x2="813" y2="540.5" stroke="#909090" stroke-width="1" stroke-dasharray="3 3" stroke-dashoffset="0"/>
<line x1="0" y1="556.5" x2="813" y2="556.5" stroke="#909090" stroke-width="1" stroke-dasharray="3 3" stroke-dashoffset="0"/>
<line x1="605" y1="281.5" x2="814" y2="281.5" stroke="#808080" stroke-width="1" stroke-dasharray="5 2"/>
<rect x="-4" y="554" width="6" height="18" fill="#008000" />
<rect x="3.5" y="552.5" width="5" height="20" fill="#ffffff" stroke="#ff0000" stroke-width="1"/>
<rect x="10" y="547" width="6" height="25" fill="#008000" />
<rect x="17.5" y="536.5" width="5" height="36" fill="#ffffff" stroke="#ff0000" stroke-width="1"/>
<rect x="24" y="556" width="6" height="16" fill="#008000" />
<rect x="31.5" y="554.5" width="5" height="18" fill="#ffffff" stroke="#ff0000" stroke-width="1"/>
<rect x="38.5" y="533.5" width="5" height="39" fill="#ffffff" stroke="#ff0000" stroke-width="1"/>
<rect x="45" y="532" width="6" height="40" fill="#008000" />
<rect x="52.5" y="549.5" width="5" height="23" fill="#ffffff" stroke="#ff0000" stroke-width="1"/>
<rect x="59" y="547" width="6" height="25" fill="#008000" />
<rect x="66" y="546" width="6" height="26" fill="#008000" />
<rect x="73" y="536" width="6" height="36" fill="#008000" />
<rect x="80" y="550" width="6" height="22" fill="#008000" />
<rect x="87.5" y="554.5" width="5" height="18" fill="#ffffff" stroke="#ff0000" stroke-width="1"/>
<rect x="94.5" y="541.5" width="5" height="31" fill="#ffffff" stroke="#ff0000" stroke-width="1"/>
<rect x="101.5" y="539.5" width="5" height="33" fill="#ffffff" stroke="#ff0000" stroke-width="1"/>
<rect x="108.5" y="546.5" width="5" height="26" fill="#ffffff" stroke="#ff0000" stroke-width="1"/>
<rect x="115.5" y="539.5" width="5" height="33" fill="#ffffff" stroke="#ff0000" stroke-width="1"/>
<rect x="122.5" y="532.5" width="5" height="40" fill="#ffffff" stroke="#ff0000" stroke-width="1"/>
<rect x="129.5" y="527.5" width="5" height="45" fill="#ffffff" stroke="#ff0000" stroke-width="1"/>
<rect x="136.5" y="551.5" width="5" height="21" fill="#ffffff" stroke="#ff0000" stroke-width="1"/>
<rect x="143" y="548" width="6" height="24" fill="#008000" />
<rect x="150.5" y="543.5" width="5" height="29" fill="#ffffff" stroke="#ff0000" stroke-width="1"/>
<rect x="157" y="535" width="6" height="37" fill="#008000" />
<rect x="164" y="547" width="6" height="25" fill="#008000" />
<rect x="171.5" y="551.5" width="5" height="21" fill="#ffffff" stroke="#ff0000" stroke-width="1"/>
<rect x="178" y="541" width="6" height="31" fill="#008000" />
<rect x="185.5" y="541.5" width="5" height="31" fill="#ffffff" stroke="#ff0000" stroke-width="1"/>
<rect x="192" y="551" width="6" height="21" fill="#008000" />
<rect x="199.5" y="557.5" width="5" height="15" fill="#ffffff" stroke="#ff0000" stroke-width="1"/>
<rect x="206.5" y="542.5" width="5" height="30" fill="#ffffff" stroke="#ff0000" stroke-width="1"/>
<rect x="213.5" y="528.5" width="5" height="44" fill="#ffffff" stroke="#ff0000" stroke-width="1"/>
<rect x="220.5" y="549.5" width="5" height="23" fill="#ffffff" stroke="#ff0000" stroke-width="1"/>
<rect x="227.5" y="552.5" width="5" height="20" fill="#ffffff" stroke="#ff0000" stroke-width="1"/>
<rect x="234" y="546" width="6" height="26" fill="#008000" />
<rect x="241" y="536" width="6" height="36" fill="#008000" />
<rect x="248" y="553" width="6" height="19" fill="#008000" />
<rect x="255.5" y="558.5" width="5" height="14" fill="#ffffff" stroke="#ff0000" stroke-width="1"/>
<rect x="262.5" y="546.5" width="5" height="26" fill="#ffffff" stroke="#ff0000" stroke-width="1"/>
<rect x="269.5" y="513.5" width="5" height="59" fill="#ffffff" stroke="#ff0000" stroke-width="1"/>
<rect x="276" y="539" width="6" height="33" fill="#008000" />
<rect x="283.5" y="542.5" width="5" height="30" fill="#ffffff" stroke="#ff0000" stroke-width="1"/>
<rect x="290" y="534" width="6" height="38" fill="#008000" />
<rect x="297" y="532" width="6" height="40" fill="#008000" />
<rect x="304" y="553" width="6" height="19" fill="#008000" />
<rect x="311" y="554" width="6" height="18" fill="#008000" />
<rect x="318.5" y="541.5" width="5" height="31" fill="#ffffff" stroke="#ff0000" stroke-width="1"/>
<rect x="325" y="538" width="6" height="34" fill="#008000" />
<rect x="332.5" y="554.5" width="5" height="18" fill="#ffffff" stroke="#ff0000" stroke-width="1"/>
<rect x="339.5" y="554.5" width="5" height="18" fill="#ffffff" stroke="#ff0000" stroke-width="1"/>
<rect x="346" y="544" width="6" height="28" fill="#008000" />
<rect x="353" y="534" width="6" height="38" fill="#008000" />
<rect x="360.5" y="556.5" width="5" height="16" fill="#ffffff" stroke="#ff0000" stroke-width="1"/>
<rect x="367" y="555" width="6" height="17" fill="#008000" />
<rect x="374.5" y="549.5" width="5" height="23" fill="#ffffff" stroke="#ff0000" stroke-width="1"/>
<rect x="381" y="542" width="6" height="30" fill="#008000" />
<rect x="388.5" y="557.5" width="5" height="15" fill="#ffffff" stroke="#ff0000" stroke-width="1"/>
<rect x="395" y="559" width="6" height="13" fill="#008000" />
<rect x="402.5" y="548.5" width="5" height="24" fill="#ffffff" stroke="#ff0000" stroke-width="1"/>
<rect x="409" y="545" width="6" height="27" fill="#008000" />
<rect x="416" y="534" width="6" height="38" fill="#008000" />
<rect x="423" y="529" width="6" height="43" fill="#008000" />
<rect x="430.5" y="533.5" width="5" height="39" fill="#ffffff" stroke="#ff0000" stroke-width="1"/>
<rect x="437.5" y="542.5" width="5" height="30" fill="#ffffff" stroke="#ff0000" stroke-width="1"/>
<rect x="444.5" y="552.5" width="5" height="20" fill="#ffffff" stroke="#ff0000" stroke-width="1"/>
<rect x="451.5" y="553.5" width="5" height="19" fill="#ffffff" stroke="#ff0000" stroke-width="1"/>
<rect x="458" y="543" width="6" height="29" fill="#008000" />
<rect x="465.5" y="547.5" width="5" height="25" fill="#ffffff" stroke="#ff0000" stroke-width="1"/>
<rect x="472" y="557" width="6" height="15" fill="#008000" />
<rect x="479.5" y="561.5" width="5" height="11" fill="#ffffff" stroke="#ff0000" stroke-width="1"/>
<rect x="486.5" y="553.5" width="5" height="19" fill="#ffffff" stroke="#ff0000" stroke-width="1"/>
<rect x="493" y="550" width="6" height="22" fill="#008000" />
<rect x="500.5" y="557.5" width="5" height="15" fill="#ffffff" stroke="#ff0000" stroke-width="1"/>
<rect x="507.5" y="561.5" width="5" height="11" fill="#ffffff" stroke="#ff0000" stroke-width="1"/>
<rect x="514" y="556" width="6" height="16" fill="#008000" />
<rect x="521.5" y="553.5" width="5" height="19" fill="#ffffff" stroke="#ff0000" stroke-width="1"/>
<rect x="528" y="560" width="6" height="12" fill="#008000" />
<rect x="535" y="562" width="6" height="10" fill="#008000" />
<rect x="542.5" y="552.5" width="5" height="20" fill="#ffffff" stroke="#ff0000" stroke-width="1"/>
<rect x="549.5" y="550.5" width="5" height="22" fill="#ffffff" stroke="#ff0000" stroke-width="1"/>
<rect x="556" y="559" width="6" height="13" fill="#008000" />
<rect x="563" y="561" width="6" height="11" fill="#008000" />
<rect x="570" y="551" width="6" height="21" fill="#008000" />
<rect x="577" y="551" width="6" height="21" fill="#008000" />
<rect x="584" y="556" width="6" height="16" fill="#008000" />
<rect x="591" y="556" width="6" height="16" fill="#008000" />
<rect x="598.5" y="553.5" width="5" height="19" fill="#ffffff" stroke="#ff0000" stroke-width="1"/>
<rect x="0" y="572" width="816" height="2" fill="#888888" />
<rect x="-4" y="279" width="6" height="9" fill="#008000" />
<rect x="6" y="284" width="1" height="12" fill="#ff0000" />
<rect x="3.5" y="284.5" width="5" height="4" fill="#ffffff" stroke="#ff0000" stroke-width="1"/>
<rect x="13" y="283" width="1" height="14" fill="#008000" />
<rect x="10" y="283" width="6" height="6" fill="#008000" />
<rect x="20" y="269" width="1" height="11" fill="#ff0000" />
<rect x="17.5" y="272.5" width="5" height="7" fill="#ffffff" stroke="#ff0000" stroke-width="1"/>
<rect x="27" y="272" width="1" height="5" fill="#008000" />
<rect x="24" y="272" width="6" height="3" fill="#008000" />
<rect x="34" y="268" width="1" height="6" fill="#ff0000" />
<rect x="31.5" y="270.5" width="5" height="3" fill="#ffffff" stroke="#ff0000" stroke-width="1"/>
<rect x="38.5" y="260.5" width="5" height="9" fill="#ffffff" stroke="#ff0000" stroke-width="1"/>
<rect x="48" y="256" width="1" height="4" fill="#008000" />
<rect x="45" y="257" width="6" height="1" fill="#008000" />
<rect x="55" y="255" width="1" height="8" fill="#ff0000" />
<rect x="52" y="255" width="6" height="2" fill="#ff0000" />
<rect x="62" y="252" width="1" height="7" fill="#008000" />
<rect x="59" y="255" width="6" height="2" fill="#008000" />
<rect x="69" y="256" width="1" height="6" fill="#008000" />
<rect x="66" y="257" width="6" height="1" fill="#008000" />
<rect x="76" y="258" width="1" height="9" fill="#008000" />
<rect x="73" y="262" width="6" height="3" fill="#008000" />
<rect x="80" y="265" width="6" height="10" fill="#008000" />
<rect x="90" y="264" width="1" height="13" fill="#ff0000" />
<rect x="87.5" y="266.5" width="5" height="8" fill="#ffffff" stroke="#ff0000" stroke-width="1"/>
<rect x="97" y="256" width="1" height="11" fill="#ff0000" />
<rect x="94.5" y="256.5" width="5" height="8" fill="#ffffff" stroke="#ff0000" stroke-width="1"/>
<rect x="104" y="254" width="1" height="8" fill="#ff0000" />
<rect x="101.5" y="255.5" width="5" height="3" fill="#ffffff" stroke="#ff0000" stroke-width="1"/>
<rect x="111" y="245" width="1" height="13" fill="#ff0000" />
<rect x="108.5" y="245.5" width="5" height="8" fill="#ffffff" stroke="#ff0000" stroke-width="1"/>
<rect x="118" y="238" width="1" height="7" fill="#ff0000" />
<rect x="115.5" y="241.5" width="5" height="3" fill="#ffffff" stroke="#ff0000" stroke-width="1"/>
<rect x="125" y="238" width="1" height="5" fill="#ff0000" />
<rect x="122" y="239" width="6" height="2" fill="#ff0000" />
<rect x="132" y="237" width="1" height="9" fill="#ff0000" />
<rect x="129.5" y="241.5" width="5" height="3" fill="#ffffff" stroke="#ff0000" stroke-width="1"/>
<rect x="139" y="238" width="1" height="5" fill="#ff0000" />
<rect x="136.5" y="238.5" width="5" height="3" fill="#ffffff" stroke="#ff0000" stroke-width="1"/>
<rect x="146" y="238" width="1" height="10" fill="#008000" />
<rect x="143" y="238" width="6" height="6" fill="#008000" />
<rect x="153" y="239" width="1" height="7" fill="#ff0000" />
<rect x="150.5" y="240.5" width="5" height="3" fill="#ffffff" stroke="#ff0000" stroke-width="1"/>
<rect x="157" y="236" width="6" height="11" fill="#008000" />
<rect x="167" y="247" width="1" height="8" fill="#008000" />
<rect x="164" y="247" width="6" height="2" fill="#008000" />
<rect x="174" y="244" width="1" height="10" fill="#ff0000" />
<rect x="171.5" y="244.5" width="5" height="3" fill="#ffffff" stroke="#ff0000" stroke-width="1"/>
<rect x="181" y="244" width="1" height="13" fill="#008000" />
<rect x="178" y="244" width="6" height="12" fill="#008000" />
<rect x="188" y="263" width="1" height="6" fill="#ff0000" />
<rect x="185" y="263" width="6" height="1" fill="#ff0000" />
<rect x="195" y="263" width="1" height="8" fill="#008000" />
<rect x="192" y="263" width="6" height="4" fill="#008000" />
<rect x="202" y="262" width="1" height="6" fill="#ff0000" />
<rect x="199" y="267" width="6" height="1" fill="#ff0000" />
<rect x="209" y="265" width="1" height="10" fill="#ff0000" />
<rect x="206" y="265" width="6" height="1" fill="#ff0000" />
<rect x="216" y="244" width="1" height="12" fill="#ff0000" />
<rect x="213.5" y="246.5" width="5" height="9" fill="#ffffff" stroke="#ff0000" stroke-width="1"/>
<rect x="223" y="241" width="1" height="5" fill="#ff0000" />
<rect x="220" y="245" width="6" height="1" fill="#ff0000" />
<rect x="230" y="241" width="1" height="4" fill="#ff0000" />
<rect x="227" y="243" width="6" height="1" fill="#ff0000" />
<rect x="237" y="243" width="1" height="6" fill="#008000" />
<rect x="234" y="243" width="6" height="3" fill="#008000" />
<rect x="244" y="247" width="1" height="9" fill="#008000" />
<rect x="241" y="248" width="6" height="4" fill="#008000" />
<rect x="251" y="250" width="1" height="7" fill="#008000" />
<rect x="248" y="252" width="6" height="2" fill="#008000" />
<rect x="258" y="250" width="1" height="5" fill="#ff0000" />
<rect x="255" y="254" width="6" height="1" fill="#ff0000" />
<rect x="265" y="250" width="1" height="8" fill="#ff0000" />
<rect x="262.5" y="250.5" width="5" height="3" fill="#ffffff" stroke="#ff0000" stroke-width="1"/>
<rect x="272" y="225" width="1" height="19" fill="#ff0000" />
<rect x="269.5" y="226.5" width="5" height="17" fill="#ffffff" stroke="#ff0000" stroke-width="1"/>
<rect x="279" y="224" width="1" height="5" fill="#008000" />
<rect x="276" y="226" width="6" height="1" fill="#008000" />
<rect x="283" y="224" width="6" height="2" fill="#ff0000" />
<rect x="293" y="224" width="1" height="11" fill="#008000" />
<rect x="290" y="224" width="6" height="10" fill="#008000" />
<rect x="300" y="227" width="1" height="7" fill="#008000" />
<rect x="297" y="228" width="6" height="5" fill="#008000" />
<rect x="307" y="232" width="1" height="4" fill="#008000" />
<rect x="304" y="232" width="6" height="1" fill="#008000" />
<rect x="314" y="232" width="1" height="6" fill="#008000" />
<rect x="311" y="233" width="6" height="1" fill="#008000" />
<rect x="321" y="227" width="1" height="7" fill="#ff0000" />
<rect x="318.5" y="228.5" width="5" height="4" fill="#ffffff" stroke="#ff0000" stroke-width="1"/>
<rect x="328" y="226" width="1" height="7" fill="#008000" />
<rect x="325" y="227" width="6" height="5" fill="#008000" />
<rect x="335" y="228" width="1" height="5" fill="#ff0000" />
<rect x="332" y="231" width="6" height="1" fill="#ff0000" />
<rect x="342" y="226" width="1" height="7" fill="#ff0000" />
<rect x="339.5" y="227.5" width="5" height="3" fill="#ffffff" stroke="#ff0000" stroke-width="1"/>
<rect x="349" y="227" width="1" height="6" fill="#008000" />
<rect x="346" y="227" width="6" height="2" fill="#008000" />
<rect x="356" y="238" width="1" height="10" fill="#008000" />
<rect x="353" y="238" width="6" height="9" fill="#008000" />
<rect x="363" y="244" width="1" height="3" fill="#ff0000" />
<rect x="360" y="245" width="6" height="2" fill="#ff0000" />
<rect x="370" y="245" width="1" height="6" fill="#008000" />
<rect x="367" y="245" width="6" height="3" fill="#008000" />
<rect x="377" y="243" width="1" height="5" fill="#ff0000" />
<rect x="374" y="247" width="6" height="1" fill="#ff0000" />
<rect x="384" y="240" width="1" height="9" fill="#008000" />
<rect x="381" y="241" width="6" height="6" fill="#008000" />
<rect x="391" y="244" width="1" height="4" fill="#ff0000" />
<rect x="388" y="246" width="6" height="1" fill="#ff0000" />
<rect x="398" y="245" width="1" height="3" fill="#008000" />
<rect x="405" y="242" width="1" height="8" fill="#ff0000" />
<rect x="402.5" y="243.5" width="5" height="3" fill="#ffffff" stroke="#ff0000" stroke-width="1"/>
<rect x="412" y="239" width="1" height="6" fill="#008000" />
<rect x="409" y="240" width="6" height="4" fill="#008000" />
<rect x="416" y="243" width="6" height="30" fill="#008000" />
<rect x="426" y="274" width="1" height="23" fill="#008000" />
<rect x="423" y="274" width="6" height="16" fill="#008000" />
<rect x="433" y="270" width="1" height="25" fill="#ff0000" />
<rect x="430.5" y="271.5" width="5" height="17" fill="#ffffff" stroke="#ff0000" stroke-width="1"/>
<rect x="440" y="272" width="1" height="10" fill="#ff0000" />
<rect x="437.5" y="275.5" width="5" height="2" fill="#ffffff" stroke="#ff0000" stroke-width="1"/>
<rect x="447" y="265" width="1" height="10" fill="#ff0000" />
<rect x="444.5" y="266.5" width="5" height="6" fill="#ffffff" stroke="#ff0000" stroke-width="1"/>
<rect x="454" y="264" width="1" height="11" fill="#ff0000" />
<rect x="451" y="264" width="6" height="1" fill="#ff0000" />
<rect x="461" y="264" width="1" height="16" fill="#008000" />
<rect x="458" y="264" width="6" height="14" fill="#008000" />
<rect x="468" y="277" width="1" height="9" fill="#ff0000" />
<rect x="465.5" y="278.5" width="5" height="5" fill="#ffffff" stroke="#ff0000" stroke-width="1"/>
<rect x="475" y="278" width="1" height="10" fill="#008000" />
<rect x="472" y="278" width="6" height="7" fill="#008000" />
<rect x="482" y="280" width="1" height="5" fill="#ff0000" />
<rect x="479.5" y="282.5" width="5" height="2" fill="#ffffff" stroke="#ff0000" stroke-width="1"/>
<rect x="489" y="275" width="1" height="8" fill="#ff0000" />
<rect x="486.5" y="276.5" width="5" height="5" fill="#ffffff" stroke="#ff0000" stroke-width="1"/>
<rect x="496" y="280" width="1" height="10" fill="#008000" />
<rect x="493" y="280" width="6" height="5" fill="#008000" />
<rect x="503" y="285" width="1" height="7" fill="#ff0000" />
<rect x="500" y="285" width="6" height="1" fill="#ff0000" />
<rect x="510" y="278" width="1" height="8" fill="#ff0000" />
<rect x="507.5" y="278.5" width="5" height="6" fill="#ffffff" stroke="#ff0000" stroke-width="1"/>
<rect x="517" y="278" width="1" height="5" fill="#008000" />
<rect x="514" y="278" width="6" height="3" fill="#008000" />
<rect x="524" y="275" width="1" height="5" fill="#ff0000" />
<rect x="521" y="279" width="6" height="2" fill="#ff0000" />
<rect x="528" y="279" width="6" height="5" fill="#008000" />
<rect x="538" y="282" width="1" height="3" fill="#008000" />
<rect x="535" y="284" width="6" height="1" fill="#008000" />
<rect x="542.5" y="273.5" width="5" height="9" fill="#ffffff" stroke="#ff0000" stroke-width="1"/>
<rect x="552" y="271" width="1" height="5" fill="#ff0000" />
<rect x="549" y="273" width="6" height="1" fill="#ff0000" />
<rect x="559" y="270" width="1" height="3" fill="#008000" />
<rect x="556" y="271" width="6" height="2" fill="#008000" />
<rect x="566" y="273" width="1" height="2" fill="#008000" />
<rect x="563" y="273" width="6" height="1" fill="#008000" />
<rect x="573" y="274" width="1" height="6" fill="#008000" />
<rect x="570" y="274" width="6" height="4" fill="#008000" />
<rect x="580" y="277" width="1" height="6" fill="#008000" />
<rect x="577" y="277" width="6" height="2" fill="#008000" />
<rect x="587" y="279" width="1" height="9" fill="#008000" />
<rect x="584" y="279" width="6" height="7" fill="#008000" />
<rect x="594" y="286" width="1" height="6" fill="#008000" />
<rect x="591" y="286" width="6" height="5" fill="#008000" />
<rect x="601" y="280" width="1" height="12" fill="#ff0000" />
<rect x="598.5" y="281.5" width="5" height="8" fill="#ffffff" stroke="#ff0000" stroke-width="1"/>
</g>
<g shape-rendering="crispEdges" fill="none" stroke-width="1">
<polyline points="0.0,290.0 15.0,289.3 32.5,286.3 50.0,283.0 66.0,279.8 85.0,278.8 100.0,276.3 117.5,272.5 140.0,268.3 160.0,265.0 180.0,262.5 197.5,261.5 204.0,261.2 209.0,262.3 219.0,261.5 246.5,260.8 276.5,259.8 286.5,258.3 309.0,256.5 329.0,254.5 349.0,252.0 374.0,250.5 394.0,248.5 408.0,247.8 415.5,246.5 433.0,247.5 458.0,249.0 483.0,250.0 508.0,252.0 533.0,254.5 558.0,256.3 583.0,258.0 598.0,259.3 612.0,260.0 622.0,261.3 642.0,262.8 659.5,263.8 682.0,267.0 707.0,270.8 732.0,274.0 744.5,275.0 767.0,277.5 784.5,279.3 794.5,280.5 811.0,280.5" stroke="#000000"/>
</g>
</svg>
</body></html>
